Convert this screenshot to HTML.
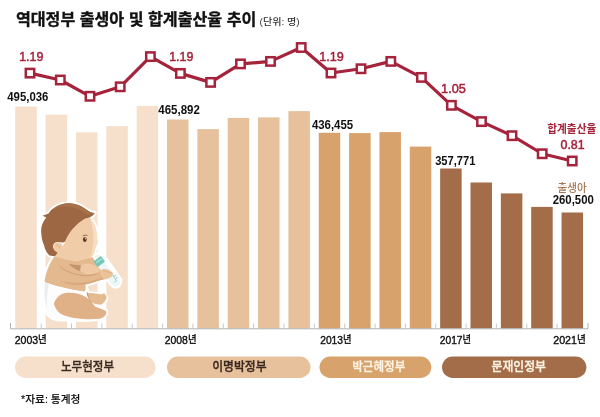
<!DOCTYPE html>
<html lang="ko"><head><meta charset="utf-8"><title>역대정부 출생아 및 합계출산율 추이</title>
<style>html,body{margin:0;padding:0;background:#fff}svg{display:block}text{font-family:'Liberation Sans','Noto Sans CJK KR',sans-serif}</style></head><body>
<svg width="600" height="417" viewBox="0 0 600 417">
<rect width="600" height="417" fill="#fff"/>
<g id="bars">
<rect x="15.25" y="106.50" width="21.5" height="221.90" fill="#f6e0cc"/>
<rect x="45.60" y="114.60" width="21.5" height="213.80" fill="#f6e0cc"/>
<rect x="75.95" y="132.40" width="21.5" height="196.00" fill="#f6e0cc"/>
<rect x="106.30" y="126.10" width="21.5" height="202.30" fill="#f6e0cc"/>
<rect x="136.65" y="105.90" width="21.5" height="222.50" fill="#f6e0cc"/>
<rect x="167.00" y="119.50" width="21.5" height="208.90" fill="#e7c09c"/>
<rect x="197.35" y="129.10" width="21.5" height="199.30" fill="#e7c09c"/>
<rect x="227.70" y="117.90" width="21.5" height="210.50" fill="#e7c09c"/>
<rect x="258.05" y="117.40" width="21.5" height="211.00" fill="#e7c09c"/>
<rect x="288.40" y="111.10" width="21.5" height="217.30" fill="#e7c09c"/>
<rect x="318.75" y="132.75" width="21.5" height="195.65" fill="#d8a26c"/>
<rect x="349.10" y="133.10" width="21.5" height="195.30" fill="#d8a26c"/>
<rect x="379.45" y="132.10" width="21.5" height="196.30" fill="#d8a26c"/>
<rect x="409.80" y="146.60" width="21.5" height="181.80" fill="#d8a26c"/>
<rect x="440.15" y="168.50" width="21.5" height="159.90" fill="#a36d4a"/>
<rect x="470.50" y="182.50" width="21.5" height="145.90" fill="#a36d4a"/>
<rect x="500.85" y="193.40" width="21.5" height="135.00" fill="#a36d4a"/>
<rect x="531.20" y="206.90" width="21.5" height="121.50" fill="#a36d4a"/>
<rect x="561.55" y="212.50" width="21.5" height="115.90" fill="#a36d4a"/>
</g>
<g id="axis" stroke="#a8a8a8" stroke-width="0.9" fill="none">
<path d="M10.5 323V328.8H588V323"/>
<path d="M41.2 323.5V328.5" stroke="#c4c4c4"/>
<path d="M71.5 323.5V328.5" stroke="#c4c4c4"/>
<path d="M101.9 323.5V328.5" stroke="#c4c4c4"/>
<path d="M132.2 323.5V328.5" stroke="#c4c4c4"/>
<path d="M162.6 323.5V328.5" stroke="#c4c4c4"/>
<path d="M192.9 323.5V328.5" stroke="#c4c4c4"/>
<path d="M223.3 323.5V328.5" stroke="#c4c4c4"/>
<path d="M253.6 323.5V328.5" stroke="#c4c4c4"/>
<path d="M284.0 323.5V328.5" stroke="#c4c4c4"/>
<path d="M314.3 323.5V328.5" stroke="#c4c4c4"/>
<path d="M344.7 323.5V328.5" stroke="#c4c4c4"/>
<path d="M375.0 323.5V328.5" stroke="#c4c4c4"/>
<path d="M405.4 323.5V328.5" stroke="#c4c4c4"/>
<path d="M435.7 323.5V328.5" stroke="#c4c4c4"/>
<path d="M466.1 323.5V328.5" stroke="#c4c4c4"/>
<path d="M496.4 323.5V328.5" stroke="#c4c4c4"/>
<path d="M526.8 323.5V328.5" stroke="#c4c4c4"/>
<path d="M557.1 323.5V328.5" stroke="#c4c4c4"/>
</g>
<g id="baby">
<g id="baby-outline" fill="#fff" stroke="#fff" stroke-width="4" stroke-linejoin="round">
<path d="M69.7 203.3C60 203 52 208 48.5 213.5L42.6 215.8L46 218C42 223 40.5 228 41.3 233C41.5 238 42.5 242 44 245C45 250 47 253 49.4 255.4L54.6 256.5C50 262 46 272 44.8 280C42.5 284 42 296 45.6 311.3C49 317 55 319.6 60.7 319.6C70 320 90 320 100 318.8C105 317 107 313 106 311.3C104 308 102 306 101.5 304.5C105 302 107 299 106 297.7C105 295 102 294 101.5 294.6L88 293L85 285C92 283 98 280.5 104.5 279L112 276.5L116.6 285L120.5 280L106 259.5L100 256.3L95 259.5C95 256 94.5 253 94.7 250.1C96 247 97.5 244 97.7 241.8C97 238 96.8 235 96.6 232.7C96 229 95.5 227 94.7 225.2C93 221 91 219 89.5 217.6C92 216.5 94 215 94.7 213.1C92 213 88 211 84.8 208.6C80 205 75 203.5 69.7 203.3Z"/>
<path d="M93.5 261.5L94.6 256.6C96 254.8 98.6 254.6 100.85 255.9L105.05 261.5L119.3 280.2C120.8 282.6 119.6 285.2 117.2 286.3C115.2 287.2 113.4 286.6 112.2 285.1L97.75 267.1Z"/>
<path d="M54.6 256.5L44.8 280L84.8 291.8L85 284.5C92 283 98 280.5 104.5 279L104 270L98 266L92.5 257Z"/>
</g>
<!-- torso / back -->
<path d="M54.6 256.5C50 262 46 272 44.8 280C44.6 282 45 283 45.6 283.5C58 287 72 290 84.8 291.8C86 289 86 286 85 284.5C92 283 98 280.5 104.5 279L104 270L98 266L92.5 257L76 261C70 258 62 256 54.6 256.5Z" fill="#e5b98f"/>
<!-- chest shadow -->
<path d="M68.5 263.6C72.5 264.8 77 265.3 81.4 265.2C81.4 267.2 80.8 269.4 80 271C76 270.2 71.6 267.4 68.5 263.6Z" fill="#c4956b"/>
<!-- far arm -->
<path d="M80.8 265C85 263.6 89 263.6 92.6 264.4C95.6 265.4 98.2 266.8 99.9 268.2C100.2 270 99.4 271.4 97.8 272.4C94 273.8 90.5 274.4 87 274.3C84 273.4 81.6 272 80 270.6C80.6 268.8 80.9 266.8 80.8 265Z" fill="#eecaa4"/>
<!-- near arm -->
<path d="M60 266.4C63 269.4 66.8 271.6 70.8 272.6C76 274.6 81.6 275.8 87 275.7C91 275.4 94.6 274.6 97.8 273.6C100.4 272.6 103 271.4 105.3 270.4L106.5 278.4L104.5 279C98 280.5 92 283 85 284.5C78 286 68 285 60 281C57 277 57.6 270.6 60 266.4Z" fill="#e5b98f"/>
<path d="M59.6 265.8C63 269.4 66.8 271.6 70.8 272.6C76 274.6 81.6 275.8 87 275.7C91 275.4 94.6 274.6 97.8 273.6" fill="none" stroke="#cfa078" stroke-width="1"/>
<!-- arm lower shade -->
<path d="M60 281C68 285 78 286 85 284.5C92 283 98 280.5 104.5 279L104.3 277C97 279.4 90 281.8 83 282.4C75 283.2 67 282.6 60 281Z" fill="#d8a87c"/>
<!-- diaper -->
<path d="M45.2 282.3C42.5 286 42 298 45.6 311.3C49 317 55 319.6 60.7 319.6C66 320 72 319.5 76 318C70 317 60 314 56.1 311.3C53 308 52.5 305 53.9 303.7C56 298 60 294 65.2 293.1C72 292 80 293.5 87.5 297L88.5 293.5C87 292.5 86 292 84.8 291.8C72 290 58 287 45.2 282.3Z" fill="#fdfdfd"/>
<path d="M45.2 282.3C44 290 44.5 300 47 309C46.5 300 47 292 49 284Z" fill="#e9edf0"/>
<!-- thigh & lower leg -->
<path d="M53.9 303.7C56 298 60 294 65.2 293.1C72 292 80 293.5 86 297C90 300 93 304 95.4 306.7C99 308 103 309 106 311.3C107.5 313.5 105 317 100 318.8C90 320 74 319 65.2 315.8C60 314 56 311 53.9 303.7Z" fill="#e0b186"/>
<!-- upper foot -->
<path d="M87.1 293.1C92 292.5 97 293.5 101.5 294.6C103 293 105 293.5 105.5 295C107 296 107 298.5 105.5 300C104.5 302 103 303.5 101.5 304.5C98 305 94 303.5 92.4 302.9C90 300 88 297 87.1 293.1Z" fill="#e6ba90"/>
<path d="M87.1 292.3C87.6 296 89 299.5 91.2 302.3" fill="none" stroke="#b98a62" stroke-width="0.9"/>
<!-- bottle body -->
<path d="M104.6 261.9L119.3 280.2C120.8 282.6 119.6 285.2 117.2 286.3C115.2 287.2 113.4 286.6 112.2 285.1L98.2 266.7Z" fill="#eef7f8"/>
<path d="M111.8 274.2l4.6 6.2M114.2 276.2l2-1.4M115.8 278.4l2-1.4M116.4 280.4l-2.2 2.2" stroke="#6cc3b6" stroke-width="0.8" fill="none"/>
<!-- nipple -->
<path d="M94.6 256.6C96 254.8 98.6 254.6 100.6 256L96.2 260Z" fill="#f4f1ea"/>
<!-- bottle cap -->
<path d="M93.5 261.5L100.85 255.9L105.05 261.5L97.75 267.1Z" fill="#70c7b9"/>
<path d="M95.6 262L101 257.9L102.3 259.6L96.9 263.8Z" fill="#9adbd0"/>
<!-- hand -->
<path d="M100 270.6C102.5 268.8 106 268.6 108.8 270C111 271 113 272.6 113 274.4C112.6 276.6 109.5 277.8 107 279L104.5 279.6C102 278 100.4 274.6 100 270.6Z" fill="#ecc49c"/>
<path d="M103 270.4C105.5 271.6 108.5 272.2 112.6 273.4" stroke="#d7a67c" stroke-width="0.7" fill="none"/>
<!-- face -->
<path d="M65 241.8C68 234 74 226 81.8 220.7C84 219 87 218 89.5 217.6C91 219 93 221 94.7 225.2C95.5 227 96 229 96.6 232.7C96.8 235 97 238 97.7 241.8C97.5 244 96 247 94.7 250.1C94.5 253 93.5 255.5 90.9 256.9C86 259.5 80 260.5 75 261C68 260.5 60 258 54.6 256.5C56 253 60 250 62 247C63.5 245 64.5 243.5 65 241.8Z" fill="#f0cda8"/>
<path d="M89.5 217.6C91 219 93 221 94.7 225.2C95.5 227 96 229 96.6 232.7C96.8 235 97 238 97.7 241.8C97.5 244 96 247 94.7 250.1C94.5 253 93.5 255.5 90.9 256.9C92 252 93 247 93.5 242C93.8 233 92.5 224 89.5 217.6Z" fill="#f8dfc4"/>
<!-- hair -->
<path d="M69.7 203.3C60 203 52 208 48.5 213.5L42.6 215.8L46.3 217.6C42 223 40.5 228 41.3 233C41.5 238 42.5 242 44 245C45 250 47 253 49.4 255.4L54.6 256.3C56 255 57 254 57.6 252.5C55 251 53 248.5 53 246C53.5 243 56 241.5 58.5 242C61 242.3 63 243 65 241.8C68 234 74 226 81.8 220.7C84 219 87 218 89.5 217.6C92 216.5 94 215 94.7 213.1C92 213.2 88 211 84.8 208.6C80 205 75 203.5 69.7 203.3Z" fill="#9e6744"/>
<path d="M69.7 203.3C75 203.5 80 205 84.8 208.6C88 211 92 213.2 94.7 213.1C93 214.5 90 215 87 214.5C82 211 76 207 66 206.5C62 206.3 58 207 54 209C58 205 64 203.2 69.7 203.3Z" fill="#a87049"/>
<!-- ear -->
<ellipse cx="58" cy="247.2" rx="4.6" ry="5" fill="#f0cba5"/>
<path d="M56.2 245.2C58 244.6 59.8 246 59.6 248.2" fill="none" stroke="#d9a982" stroke-width="0.8"/>
<!-- eye & brow -->
<ellipse cx="84.8" cy="239.6" rx="1.9" ry="2.3" fill="#5b3226"/>
<circle cx="85.4" cy="238.8" r="0.6" fill="#fff"/>
<path d="M82.6 236.2C84 235 86.2 234.8 87.6 235.6" fill="none" stroke="#8a5a3c" stroke-width="0.9"/>
</g>

<path d="M30.00 73.10 L60.30 80.00 L90.00 96.30 L120.20 86.80 L150.40 56.60 L180.40 73.40 L210.60 82.40 L240.50 63.90 L270.50 61.40 L301.20 47.50 L331.00 73.00 L361.00 68.75 L390.80 61.40 L421.40 77.40 L451.40 105.30 L481.50 121.60 L512.00 135.70 L542.20 153.75 L572.20 161.00" fill="none" stroke="#a5233b" stroke-width="3.2" stroke-linejoin="round"/>
<g fill="#fff" stroke="#a5233b" stroke-width="2.5">
<rect x="25.80" y="68.90" width="8.4" height="8.4"/>
<rect x="56.10" y="75.80" width="8.4" height="8.4"/>
<rect x="85.80" y="92.10" width="8.4" height="8.4"/>
<rect x="116.00" y="82.60" width="8.4" height="8.4"/>
<rect x="146.20" y="52.40" width="8.4" height="8.4"/>
<rect x="176.20" y="69.20" width="8.4" height="8.4"/>
<rect x="206.40" y="78.20" width="8.4" height="8.4"/>
<rect x="236.30" y="59.70" width="8.4" height="8.4"/>
<rect x="266.30" y="57.20" width="8.4" height="8.4"/>
<rect x="297.00" y="43.30" width="8.4" height="8.4"/>
<rect x="326.80" y="68.80" width="8.4" height="8.4"/>
<rect x="356.80" y="64.55" width="8.4" height="8.4"/>
<rect x="386.60" y="57.20" width="8.4" height="8.4"/>
<rect x="417.20" y="73.20" width="8.4" height="8.4"/>
<rect x="447.20" y="101.10" width="8.4" height="8.4"/>
<rect x="477.30" y="117.40" width="8.4" height="8.4"/>
<rect x="507.80" y="131.50" width="8.4" height="8.4"/>
<rect x="538.00" y="149.55" width="8.4" height="8.4"/>
<rect x="568.00" y="156.80" width="8.4" height="8.4"/>
</g>
<text x="15.9" y="25.3" font-size="15.7" fill="#111" font-weight="700" text-anchor="start" textLength="240.4" lengthAdjust="spacingAndGlyphs" stroke="#111" stroke-width="0.35">역대정부 출생아 및 합계출산율 추이</text>
<text x="259.6" y="25.2" font-size="9" fill="#333" font-weight="500" text-anchor="start" textLength="40.1" lengthAdjust="spacingAndGlyphs">(단위: 명)</text>
<text x="19.2" y="60.9" font-size="13.6" fill="#a5233b" font-weight="400" text-anchor="start" textLength="24.1" lengthAdjust="spacingAndGlyphs" stroke="#a5233b" stroke-width="0.5">1.19</text>
<text x="169.2" y="60.9" font-size="13.6" fill="#a5233b" font-weight="400" text-anchor="start" textLength="24.1" lengthAdjust="spacingAndGlyphs" stroke="#a5233b" stroke-width="0.5">1.19</text>
<text x="319.2" y="60.7" font-size="13.6" fill="#a5233b" font-weight="400" text-anchor="start" textLength="24.6" lengthAdjust="spacingAndGlyphs" stroke="#a5233b" stroke-width="0.5">1.19</text>
<text x="441.1" y="92.5" font-size="13.6" fill="#a5233b" font-weight="400" text-anchor="start" textLength="24.7" lengthAdjust="spacingAndGlyphs" stroke="#a5233b" stroke-width="0.5">1.05</text>
<text x="560.5" y="148.6" font-size="13.6" fill="#a5233b" font-weight="400" text-anchor="start" textLength="24.1" lengthAdjust="spacingAndGlyphs" stroke="#a5233b" stroke-width="0.5">0.81</text>
<text x="547.2" y="132.8" font-size="11.6" fill="#a5233b" font-weight="700" text-anchor="start" textLength="49.1" lengthAdjust="spacingAndGlyphs">합계출산율</text>
<text x="557.5" y="192.0" font-size="11.8" fill="#a67752" font-weight="500" text-anchor="start" textLength="29.1" lengthAdjust="spacingAndGlyphs">출생아</text>
<text x="7.3" y="100.9" font-size="12" fill="#111" font-weight="700" text-anchor="start" textLength="41.1" lengthAdjust="spacingAndGlyphs">495,036</text>
<text x="158.3" y="114.4" font-size="12" fill="#111" font-weight="700" text-anchor="start" textLength="41.5" lengthAdjust="spacingAndGlyphs">465,892</text>
<text x="311.9" y="129.0" font-size="12" fill="#111" font-weight="700" text-anchor="start" textLength="41.3" lengthAdjust="spacingAndGlyphs">436,455</text>
<text x="435.2" y="164.6" font-size="12" fill="#111" font-weight="700" text-anchor="start" textLength="40.2" lengthAdjust="spacingAndGlyphs">357,771</text>
<text x="552.7" y="204.4" font-size="12" fill="#111" font-weight="700" text-anchor="start" textLength="41.2" lengthAdjust="spacingAndGlyphs">260,500</text>
<text x="14.7" y="343.6" font-size="11.8" fill="#111" font-weight="400" text-anchor="start" textLength="32.1" lengthAdjust="spacingAndGlyphs" stroke="#111" stroke-width="0.4">2003<tspan font-size="10.6" dy="-0.3">년</tspan></text>
<text x="164.7" y="343.6" font-size="11.8" fill="#111" font-weight="400" text-anchor="start" textLength="31.8" lengthAdjust="spacingAndGlyphs" stroke="#111" stroke-width="0.4">2008<tspan font-size="10.6" dy="-0.3">년</tspan></text>
<text x="320.2" y="343.6" font-size="11.8" fill="#111" font-weight="400" text-anchor="start" textLength="31.3" lengthAdjust="spacingAndGlyphs" stroke="#111" stroke-width="0.4">2013<tspan font-size="10.6" dy="-0.3">년</tspan></text>
<text x="439.7" y="343.6" font-size="11.8" fill="#111" font-weight="400" text-anchor="start" textLength="31.4" lengthAdjust="spacingAndGlyphs" stroke="#111" stroke-width="0.4">2017<tspan font-size="10.6" dy="-0.3">년</tspan></text>
<text x="553.2" y="343.6" font-size="11.8" fill="#111" font-weight="400" text-anchor="start" textLength="32.6" lengthAdjust="spacingAndGlyphs" stroke="#111" stroke-width="0.4">2021<tspan font-size="10.6" dy="-0.3">년</tspan></text>
<rect x="15.0" y="356.5" width="140.5" height="21.5" rx="10.7" fill="#f6e0cc"/>
<text x="61.0" y="371.3" font-size="12.2" fill="#3a2a20" font-weight="500" text-anchor="start" textLength="53.1" lengthAdjust="spacingAndGlyphs" stroke="#3a2a20" stroke-width="0.3">노무현정부</text>
<rect x="167.0" y="356.5" width="143.5" height="21.5" rx="10.7" fill="#e7c09c"/>
<text x="212.2" y="371.3" font-size="12.2" fill="#3a2a20" font-weight="500" text-anchor="start" textLength="54.4" lengthAdjust="spacingAndGlyphs" stroke="#3a2a20" stroke-width="0.3">이명박정부</text>
<rect x="319.5" y="356.5" width="111.8" height="21.5" rx="10.7" fill="#d8a26c"/>
<text x="352.2" y="371.3" font-size="12.2" fill="#fff4e4" font-weight="500" text-anchor="start" textLength="53.1" lengthAdjust="spacingAndGlyphs" stroke="#fff4e4" stroke-width="0.3">박근혜정부</text>
<rect x="442.0" y="356.5" width="144.4" height="21.5" rx="10.7" fill="#a36d4a"/>
<text x="491.5" y="371.3" font-size="12.2" fill="#fff4e4" font-weight="500" text-anchor="start" textLength="54.4" lengthAdjust="spacingAndGlyphs" stroke="#fff4e4" stroke-width="0.3">문재인정부</text>
<text x="21.1" y="403.4" font-size="10.5" fill="#111" font-weight="500" text-anchor="start" textLength="59.3" lengthAdjust="spacingAndGlyphs" stroke="#111" stroke-width="0.12">*자료: 통계청</text>
</svg></body></html>
